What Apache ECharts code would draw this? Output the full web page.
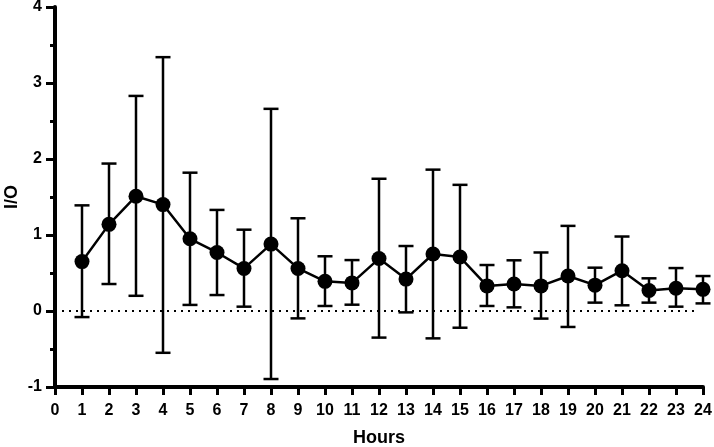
<!DOCTYPE html>
<html>
<head>
<meta charset="utf-8">
<script src="https://cdn.jsdelivr.net/npm/echarts@6/dist/echarts.min.js"></script>
<style>
  html, body { margin: 0; padding: 0; background: #fff; }
  #chart { width: 714px; height: 447px; }
</style>
</head>
<body>
<div id="chart"></div>
<script>
// hours and I/O means, with error bar ends
var hours = [1, 2, 3, 4, 5, 6, 7, 8, 9, 10, 11, 12, 13, 14, 15, 16, 17, 18, 19, 20, 21, 22, 23, 24];
var means = [0.65, 1.14, 1.51, 1.40, 0.95, 0.77, 0.56, 0.88, 0.56, 0.39, 0.37, 0.69,
             0.42, 0.75, 0.71, 0.33, 0.355, 0.33, 0.46, 0.34, 0.53, 0.27, 0.30, 0.285];
var upper = [1.39, 1.94, 2.83, 3.34, 1.82, 1.33, 1.07, 2.66, 1.22, 0.72, 0.67, 1.74,
             0.855, 1.86, 1.66, 0.605, 0.667, 0.77, 1.12, 0.57, 0.98, 0.43, 0.565, 0.46];
var lower = [-0.08, 0.355, 0.20, -0.55, 0.08, 0.21, 0.057, -0.895, -0.097, 0.066, 0.083, -0.35,
             -0.018, -0.36, -0.22, 0.066, 0.048, -0.10, -0.21, 0.11, 0.075, 0.11, 0.057, 0.10];

var chart = echarts.init(document.getElementById('chart'));

var lineData = hours.map(function (h, i) { return [h, means[i]]; });
var barData = hours.map(function (h, i) { return [h, lower[i], upper[i]]; });

var labelFont = {
  color: '#000',
  fontFamily: 'Liberation Sans, Arial, sans-serif',
  fontWeight: 'bold',
  fontSize: 16
};

chart.setOption({
  animation: false,
  grid: { left: 55, right: 11, top: 7, bottom: 60, outerBoundsMode: 'none', containLabel: false },
  xAxis: {
    type: 'value',
    min: 0,
    max: 24,
    interval: 1,
    name: 'Hours',
    nameLocation: 'middle',
    nameGap: 51,
    nameMoveOverlap: false,
    nameTextStyle: Object.assign({}, labelFont, { fontSize: 18, verticalAlign: 'middle' }),
    axisLine: { onZero: false, lineStyle: { color: '#000', width: 4 } },
    axisTick: { length: 8, lineStyle: { color: '#000', width: 3 } },
    axisLabel: Object.assign({ margin: 16 }, labelFont),
    splitLine: { show: false }
  },
  yAxis: {
    type: 'value',
    min: -1,
    max: 4,
    interval: 1,
    name: 'I/O',
    nameLocation: 'middle',
    nameGap: 43,
    nameMoveOverlap: false,
    nameTextStyle: Object.assign({}, labelFont, { fontSize: 18, verticalAlign: 'middle' }),
    axisLine: { onZero: false, lineStyle: { color: '#000', width: 4 } },
    axisTick: { length: 9, lineStyle: { color: '#000', width: 3 } },
    minorTick: { show: true, splitNumber: 2, length: 5, lineStyle: { color: '#000', width: 3 } },
    axisLabel: Object.assign({ margin: 13 }, labelFont),
    splitLine: { show: false },
    minorSplitLine: { show: false }
  },
  series: [
    {
      type: 'custom',
      data: barData,
      z: 2,
      renderItem: function (params, api) {
        var x = api.value(0);
        var lo = api.coord([x, api.value(1)]);
        var hi = api.coord([x, api.value(2)]);
        var half = 7.5;
        var style = { stroke: '#000', lineWidth: 2.5 };
        return {
          type: 'group',
          children: [
            { type: 'line', shape: { x1: lo[0], y1: lo[1], x2: hi[0], y2: hi[1] }, style: style },
            { type: 'line', shape: { x1: hi[0] - half, y1: hi[1], x2: hi[0] + half, y2: hi[1] }, style: style },
            { type: 'line', shape: { x1: lo[0] - half, y1: lo[1], x2: lo[0] + half, y2: lo[1] }, style: style }
          ]
        };
      }
    },
    {
      type: 'line',
      data: lineData,
      z: 3,
      symbol: 'circle',
      symbolSize: 15,
      itemStyle: { color: '#000' },
      lineStyle: { color: '#000', width: 2.5 },
      markLine: {
        silent: true,
        symbol: 'none',
        label: { show: false },
        lineStyle: { color: '#000', type: [2, 5], width: 2 },
        data: [[{ coord: [0, 0] }, { coord: [23.8, 0] }]]
      }
    }
  ]
});
</script>
</body>
</html>
